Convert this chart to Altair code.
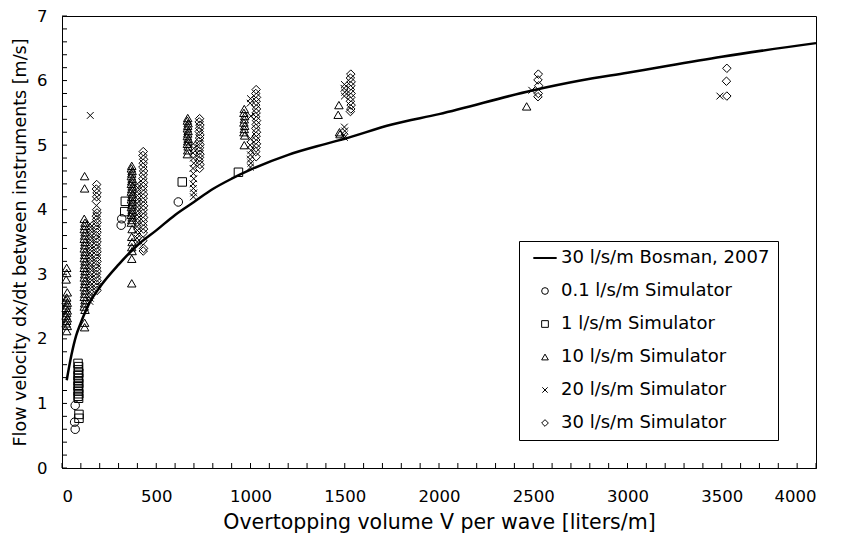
import altair as alt
import pandas as pd

# ---- data ----
series_names = [
    "30 l/s/m Bosman, 2007",
    "0.1 l/s/m Simulator",
    "1 l/s/m Simulator",
    "10 l/s/m Simulator",
    "20 l/s/m Simulator",
    "30 l/s/m Simulator",
]

pts_01 = [(70, 0.97), (67, 0.71), (70, 0.60), (317, 3.86), (314, 3.76), (617, 4.12)]

pts_1 = [(85, 1.62), (88, 1.57), (86, 1.52), (89, 1.47), (85, 1.43), (88, 1.39), (86, 1.35),
         (89, 1.31), (85, 1.27), (88, 1.23), (86, 1.19), (89, 1.15), (85, 1.11), (88, 1.08),
         (90, 0.83), (90, 0.77), (336, 4.13), (333, 3.97), (638, 4.43), (936, 4.58)]

pts_10 = [
    (25, 3.10), (25, 3.02), (22, 2.92), (28, 2.72), (25, 2.64), (22, 2.60), (28, 2.56), (25, 2.52),
    (22, 2.48), (28, 2.44), (25, 2.40), (22, 2.36), (28, 2.32), (25, 2.28), (22, 2.24), (28, 2.20),
    (25, 2.12),
    (120, 4.52), (120, 4.33), (118, 3.86), (122, 3.80), (120, 3.75), (118, 3.70), (122, 3.65),
    (120, 3.60), (118, 3.55), (122, 3.50), (120, 3.45), (118, 3.40), (122, 3.35), (120, 3.30),
    (118, 3.25), (122, 3.20), (120, 3.15), (118, 3.10), (122, 3.05), (120, 3.00), (118, 2.95),
    (122, 2.90), (120, 2.85), (118, 2.80), (122, 2.75), (120, 2.70), (118, 2.65), (122, 2.60),
    (120, 2.55), (118, 2.50), (122, 2.45), (120, 2.25), (120, 2.18),
    (370, 4.68), (368, 4.64), (372, 4.60), (370, 4.56), (368, 4.52), (372, 4.48), (370, 4.44),
    (368, 4.40), (372, 4.36), (370, 4.32), (368, 4.28), (372, 4.24), (370, 4.20), (368, 4.16),
    (372, 4.12), (370, 4.08), (368, 4.04), (372, 4.00), (370, 3.96), (368, 3.92), (372, 3.88),
    (370, 3.84), (368, 3.80), (372, 3.70), (370, 3.58), (372, 3.50), (370, 3.42), (372, 3.36),
    (370, 3.24), (370, 2.86),
    (667, 5.42), (665, 5.38), (669, 5.34), (667, 5.30), (665, 5.26), (669, 5.22), (667, 5.18),
    (665, 5.14), (669, 5.10), (667, 5.06), (665, 5.02), (669, 4.98), (667, 4.92), (665, 4.86),
    (967, 5.56), (965, 5.50), (969, 5.45), (967, 5.40), (965, 5.35), (969, 5.30), (967, 5.25),
    (965, 5.20), (969, 5.15), (967, 5.00),
    (1469, 5.62), (1465, 5.47), (1472, 5.20), (1475, 5.17),
    (2465, 5.60),
]

pts_20 = [
    (150, 5.46),
    (148, 3.78), (152, 3.73), (150, 3.68), (148, 3.63), (152, 3.58), (150, 3.53), (148, 3.48),
    (152, 3.43), (150, 3.38), (148, 3.33), (152, 3.28), (150, 3.23), (148, 3.18), (152, 3.13),
    (150, 3.08), (148, 3.03), (152, 2.98), (150, 2.93), (148, 2.88), (152, 2.83), (150, 2.78),
    (148, 2.73), (152, 2.68), (150, 2.63), (148, 2.58),
    (400, 4.40), (402, 4.34), (398, 4.28), (400, 4.22), (402, 4.16), (398, 4.10), (400, 4.04),
    (402, 3.98), (398, 3.92), (400, 3.86), (402, 3.80), (398, 3.74), (400, 3.68), (402, 3.62),
    (398, 3.56), (400, 3.50),
    (697, 5.02), (699, 4.95), (695, 4.88), (697, 4.80), (699, 4.72), (695, 4.64), (697, 4.56),
    (699, 4.48), (695, 4.40), (697, 4.33), (699, 4.26), (697, 4.20),
    (1000, 5.72), (998, 5.65), (1002, 5.45), (1000, 5.10), (998, 5.00), (1002, 4.92), (1000, 4.85),
    (998, 4.78), (1002, 4.72), (1000, 4.66),
    (1498, 5.94), (1496, 5.88), (1500, 5.82), (1498, 5.76), (1498, 5.28), (1500, 5.22),
    (1496, 5.16), (1498, 5.12),
    (2492, 5.85), (3490, 5.76),
]

pts_30 = [
    (184, 4.39), (182, 4.32), (186, 4.26), (184, 4.20), (182, 4.13),
    (184, 4.00), (186, 3.95), (182, 3.90), (184, 3.85), (186, 3.80), (182, 3.75), (184, 3.70),
    (186, 3.65), (182, 3.60), (184, 3.55), (186, 3.50), (182, 3.45), (184, 3.40), (186, 3.35),
    (182, 3.30), (184, 3.25), (186, 3.20), (182, 3.15), (184, 3.10), (186, 3.05), (182, 3.00),
    (184, 2.95), (186, 2.90), (182, 2.85), (184, 2.80), (186, 2.75),
    (431, 4.90), (429, 4.84), (433, 4.78), (431, 4.72), (429, 4.66), (433, 4.60), (431, 4.54),
    (429, 4.48), (433, 4.42), (431, 4.36), (429, 4.30), (433, 4.24), (431, 4.18), (429, 4.12),
    (433, 4.06), (431, 4.00), (429, 3.94), (433, 3.88), (431, 3.82), (429, 3.76), (433, 3.70),
    (431, 3.64), (429, 3.52), (433, 3.40), (431, 3.36),
    (730, 5.41), (728, 5.36), (732, 5.31), (730, 5.26), (728, 5.21), (732, 5.16), (730, 5.11),
    (728, 5.06), (732, 5.01), (730, 4.96), (728, 4.91), (732, 4.86), (730, 4.81), (728, 4.76),
    (732, 4.70), (730, 4.64),
    (1030, 5.86), (1028, 5.80), (1032, 5.74), (1030, 5.68), (1028, 5.62), (1032, 5.56),
    (1030, 5.50), (1028, 5.44), (1032, 5.38), (1030, 5.32), (1028, 5.26), (1032, 5.20),
    (1030, 5.14), (1028, 5.08), (1032, 5.02), (1030, 4.96), (1028, 4.90), (1030, 4.82),
    (1532, 6.10), (1530, 6.04), (1534, 5.98), (1532, 5.92), (1530, 5.86), (1534, 5.80),
    (1532, 5.74), (1530, 5.68), (1534, 5.62), (1532, 5.56), (1530, 5.52),
    (2527, 6.10), (2525, 6.01), (2529, 5.92), (2527, 5.80), (2525, 5.75),
    (3527, 6.19), (3525, 5.99), (3527, 5.76),
]

curve_v = [25, 50, 75, 100, 150, 200, 300, 400, 500, 600, 700, 800, 900, 1000, 1200, 1400,
           1500, 1750, 2000, 2500, 2750, 3000, 3500, 4000]
curve_u = [1.36, 1.75, 2.05, 2.25, 2.58, 2.80, 3.15, 3.45, 3.68, 3.92, 4.12, 4.32, 4.48, 4.62,
           4.85, 5.02, 5.10, 5.32, 5.48, 5.85, 6.00, 6.12, 6.37, 6.58]

x_ticks = list(range(0, 4001, 100))
y_ticks = [round(0.2 * i, 1) for i in range(36)]
x_labels = [0, 500, 1000, 1500, 2000, 2500, 3000, 3500, 4000]
y_labels = [0, 1, 2, 3, 4, 5, 6, 7]

# ---- tables ----
rows = []
for name, pts in zip(series_names[1:], [pts_01, pts_1, pts_10, pts_20, pts_30]):
    for v, u in pts:
        rows.append({"V": v, "u": u, "series": name})
points_df = pd.DataFrame(rows)
curve_df = pd.DataFrame({"V": curve_v, "u": curve_u})
xt_df = pd.DataFrame({"V": x_ticks})
yt_df = pd.DataFrame({"u": y_ticks})

W, H = 754, 452
FONT = "DejaVu Sans"

xscale = alt.Scale(domain=[0, 4000], nice=False, zero=False)
yscale = alt.Scale(domain=[0, 7], nice=False, zero=False)

x_axis = alt.Axis(values=x_labels, format="d", grid=False, ticks=False, tickSize=0,
                  labelPadding=20, labelFontSize=16.5, titleFontSize=20.5, titleFontWeight="normal",
                  titlePadding=8, domainColor="black", labelColor="black", titleColor="black")
y_axis = alt.Axis(values=y_labels, format="d", grid=False, ticks=False, tickSize=0,
                  labelPadding=15, labelFontSize=16.5, titleFontSize=17.5, titleFontWeight="normal",
                  titlePadding=7, domainColor="black", labelColor="black", titleColor="black")

line_shape = "M-3.4,-0.15L3.4,-0.15L3.4,0.15L-3.4,0.15Z"
x_shape = "M-0.8,-0.8L0.8,0.8M-0.8,0.8L0.8,-0.8"
shape_range = [line_shape, "circle", "square", "triangle-up", x_shape, "diamond"]

points = alt.Chart(points_df).mark_point(filled=False, color="black", strokeWidth=1, size=72, opacity=1).encode(
    x=alt.X("V:Q", scale=xscale, axis=x_axis, title="Overtopping volume V per wave [liters/m]"),
    y=alt.Y("u:Q", scale=yscale, axis=y_axis, title="Flow velocity dx/dt between instruments [m/s]"),
    shape=alt.Shape("series:N", scale=alt.Scale(domain=series_names, range=shape_range),
                    title=None,
                    legend=alt.Legend(orient="none", legendX=457, legendY=225,
                                      strokeColor="black", fillColor="white", padding=8,
                                      labelFont=FONT, labelFontSize=18, labelColor="black",
                                      symbolSize=45, symbolStrokeColor="black", symbolStrokeWidth=1,
                                      symbolOffset=9, labelOffset=7, rowPadding=15,
                                      labelLimit=400)),
)

curve = alt.Chart(curve_df).mark_line(color="black", strokeWidth=2.5, interpolate="monotone").encode(
    x=alt.X("V:Q", scale=xscale),
    y=alt.Y("u:Q", scale=yscale),
)

xticks = alt.Chart(xt_df).mark_rule(color="black", strokeWidth=1).encode(
    x=alt.X("V:Q", scale=xscale),
    y=alt.value(H), y2=alt.value(H - 5),
)
yticks = alt.Chart(yt_df).mark_rule(color="black", strokeWidth=1).encode(
    y=alt.Y("u:Q", scale=yscale),
    x=alt.value(0), x2=alt.value(5),
)

chart = alt.layer(points, curve, xticks, yticks).properties(
    width=W, height=H,
    autosize=alt.AutoSizeParams(type="none"),
    padding={"left": 54, "top": 8, "right": 19, "bottom": 68},
).configure(font=FONT).configure_view(stroke="black", strokeWidth=1)

chart.save("out.html", embed_options={"renderer": "svg", "actions": False})
